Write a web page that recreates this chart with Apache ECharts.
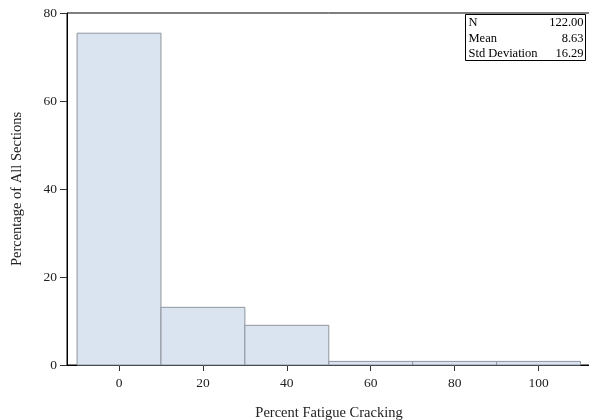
<!DOCTYPE html>
<html><head><meta charset="utf-8">
<script src="https://cdn.jsdelivr.net/npm/echarts@6/dist/echarts.min.js"></script>
<style>html,body{margin:0;padding:0;background:#fff}#c{width:589px;height:420px}</style>
</head><body><div id="c"></div>
<script>
var binStarts = [-10, 10, 30, 50, 70, 90];
var binEnds = [10, 30, 50, 70, 90, 110];
var percents = [75.41, 13.11, 9.02, 0.82, 0.82, 0.82];
var xTicks = [0, 20, 40, 60, 80, 100];
var statLabels = ['N', 'Mean', 'Std Deviation'];
var statValues = ['122.00', '8.63', '16.29'];

var FONT = '"Liberation Serif", "DejaVu Serif", serif';
var chart = echarts.init(document.getElementById('c'), null, {renderer: 'canvas'});
var data = binStarts.map(function (s, i) { return [s, binEnds[i], percents[i]]; });

chart.setOption({
  animation: false,
  grid: {left: 67, top: 13, right: -2, bottom: 55, outerBoundsMode: 'none', containLabel: false,
         show: true, borderColor: '#000', borderWidth: 1, backgroundColor: 'transparent'},
  xAxis: {
    type: 'value', min: -12.4, max: 112.5,
    name: 'Percent Fatigue Cracking', nameLocation: 'middle', nameGap: 41,
    nameTextStyle: {fontFamily: FONT, fontSize: 14.5, color: '#222'},
    axisLine: {show: true, onZero: false, lineStyle: {color: '#000'}},
    axisTick: {show: true, length: 6, customValues: xTicks, lineStyle: {color: '#333'}},
    axisLabel: {customValues: xTicks, fontFamily: FONT, fontSize: 13.5, color: '#222', margin: 11},
    splitLine: {show: false}
  },
  yAxis: {
    type: 'value', min: 0, max: 80, interval: 20,
    name: 'Percentage of All Sections', nameLocation: 'middle', nameGap: 42,
    nameTextStyle: {fontFamily: FONT, fontSize: 14.5, color: '#222'},
    axisLine: {show: true, onZero: false, lineStyle: {color: '#000'}},
    axisTick: {show: true, length: 7, lineStyle: {color: '#333'}},
    axisLabel: {fontFamily: FONT, fontSize: 13.5, color: '#222', margin: 10},
    splitLine: {show: false}
  },
  series: [{
    type: 'custom',
    data: data,
    encode: {x: [0, 1], y: 2},
    renderItem: function (params, api) {
      var p0 = api.coord([api.value(0), 0]);
      var p1 = api.coord([api.value(1), api.value(2)]);
      return {
        type: 'rect',
        shape: {x: p0[0], y: p1[1], width: p1[0] - p0[0], height: p0[1] - p1[1]},
        style: {fill: '#dae4f0', stroke: '#8e959e', lineWidth: 1}
      };
    }
  }],
  graphic: [{
    type: 'group', right: 3, top: 14,
    children: [
      {type: 'rect', shape: {x: 0, y: 0, width: 120, height: 46}, style: {fill: '#fff', stroke: '#000', lineWidth: 1}},
      {type: 'text', style: {text: statLabels.join('\n'), font: '12.5px ' + FONT, lineHeight: 15.5, fill: '#000', x: 3, y: 0.5}},
      {type: 'text', style: {text: statValues.join('\n'), font: '12.5px ' + FONT, lineHeight: 15.5, fill: '#000', textAlign: 'right', x: 118, y: 0.5}}
    ]
  }]
});
</script></body></html>
